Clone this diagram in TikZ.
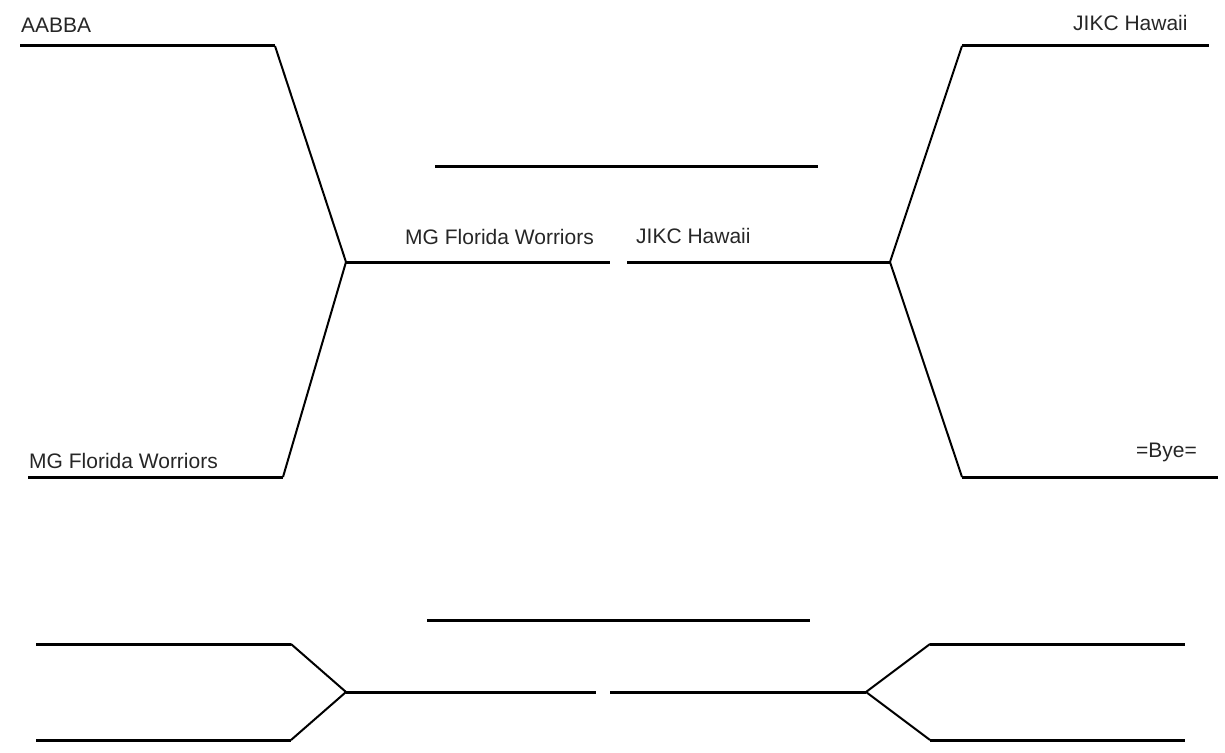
\documentclass[tikz,border=0pt]{standalone}
\usepackage{fontspec}
\setmainfont{Liberation Sans}
\begin{document}
\begin{tikzpicture}[x=1pt,y=-1pt,
  hline/.style={line width=3pt},
  dline/.style={line width=2pt},
  lbl/.style={inner sep=0pt,anchor=base west,font=\fontsize{21}{25}\selectfont,text=black!85}]
\useasboundingbox (0,0) rectangle (1225,752);
% upper bracket coordinates
\coordinate (a1) at (20,46);   \coordinate (a2) at (275,46);
\coordinate (b1) at (28,477);  \coordinate (b2) at (283,477);
\coordinate (m1) at (346,262); \coordinate (m2) at (610,262);
\coordinate (n1) at (627,262); \coordinate (n2) at (890,262);
\coordinate (c1) at (962,46);  \coordinate (c2) at (1209,46);
\coordinate (d1) at (962,477); \coordinate (d2) at (1218,477);
\coordinate (t1) at (435,166); \coordinate (t2) at (818,166);
% lower bracket coordinates
\coordinate (e1) at (36,644);  \coordinate (e2) at (291,644);
\coordinate (f1) at (36,740);  \coordinate (f2) at (291,740);
\coordinate (p1) at (346,692); \coordinate (p2) at (596,692);
\coordinate (q1) at (610,692); \coordinate (q2) at (866,692);
\coordinate (g1) at (930,644); \coordinate (g2) at (1185,644);
\coordinate (h1) at (930,740); \coordinate (h2) at (1185,740);
\coordinate (u1) at (427,620); \coordinate (u2) at (810,620);
% upper lines
\draw[hline] (a1) -- (a2);
\draw[dline] (a2) -- (m1);
\draw[hline] (b1) -- (b2);
\draw[dline] (b2) -- (m1);
\draw[hline] (m1) -- (m2);
\draw[hline] (n1) -- (n2);
\draw[dline] (n2) -- (c1);
\draw[dline] (n2) -- (d1);
\draw[hline] (c1) -- (c2);
\draw[hline] (d1) -- (d2);
\draw[hline] (t1) -- (t2);
% lower lines
\draw[hline] (e1) -- (e2);
\draw[dline] (e2) -- (p1);
\draw[hline] (f1) -- (f2);
\draw[dline] (f2) -- (p1);
\draw[hline] (p1) -- (p2);
\draw[hline] (q1) -- (q2);
\draw[dline] (q2) -- (g1);
\draw[dline] (q2) -- (h1);
\draw[hline] (g1) -- (g2);
\draw[hline] (h1) -- (h2);
\draw[hline] (u1) -- (u2);
% labels
\node[lbl] (l1) at (21,33) {AABBA};
\node[lbl] (l2) at (1073,31) {JIKC Hawaii};
\node[lbl] (l3) at (405,244) {MG Florida Worriors};
\node[lbl] (l4) at (636,243) {JIKC Hawaii};
\node[lbl] (l5) at (29,468) {MG Florida Worriors};
\node[lbl] (l6) at (1136,457) {=Bye=};
\end{tikzpicture}
\end{document}
